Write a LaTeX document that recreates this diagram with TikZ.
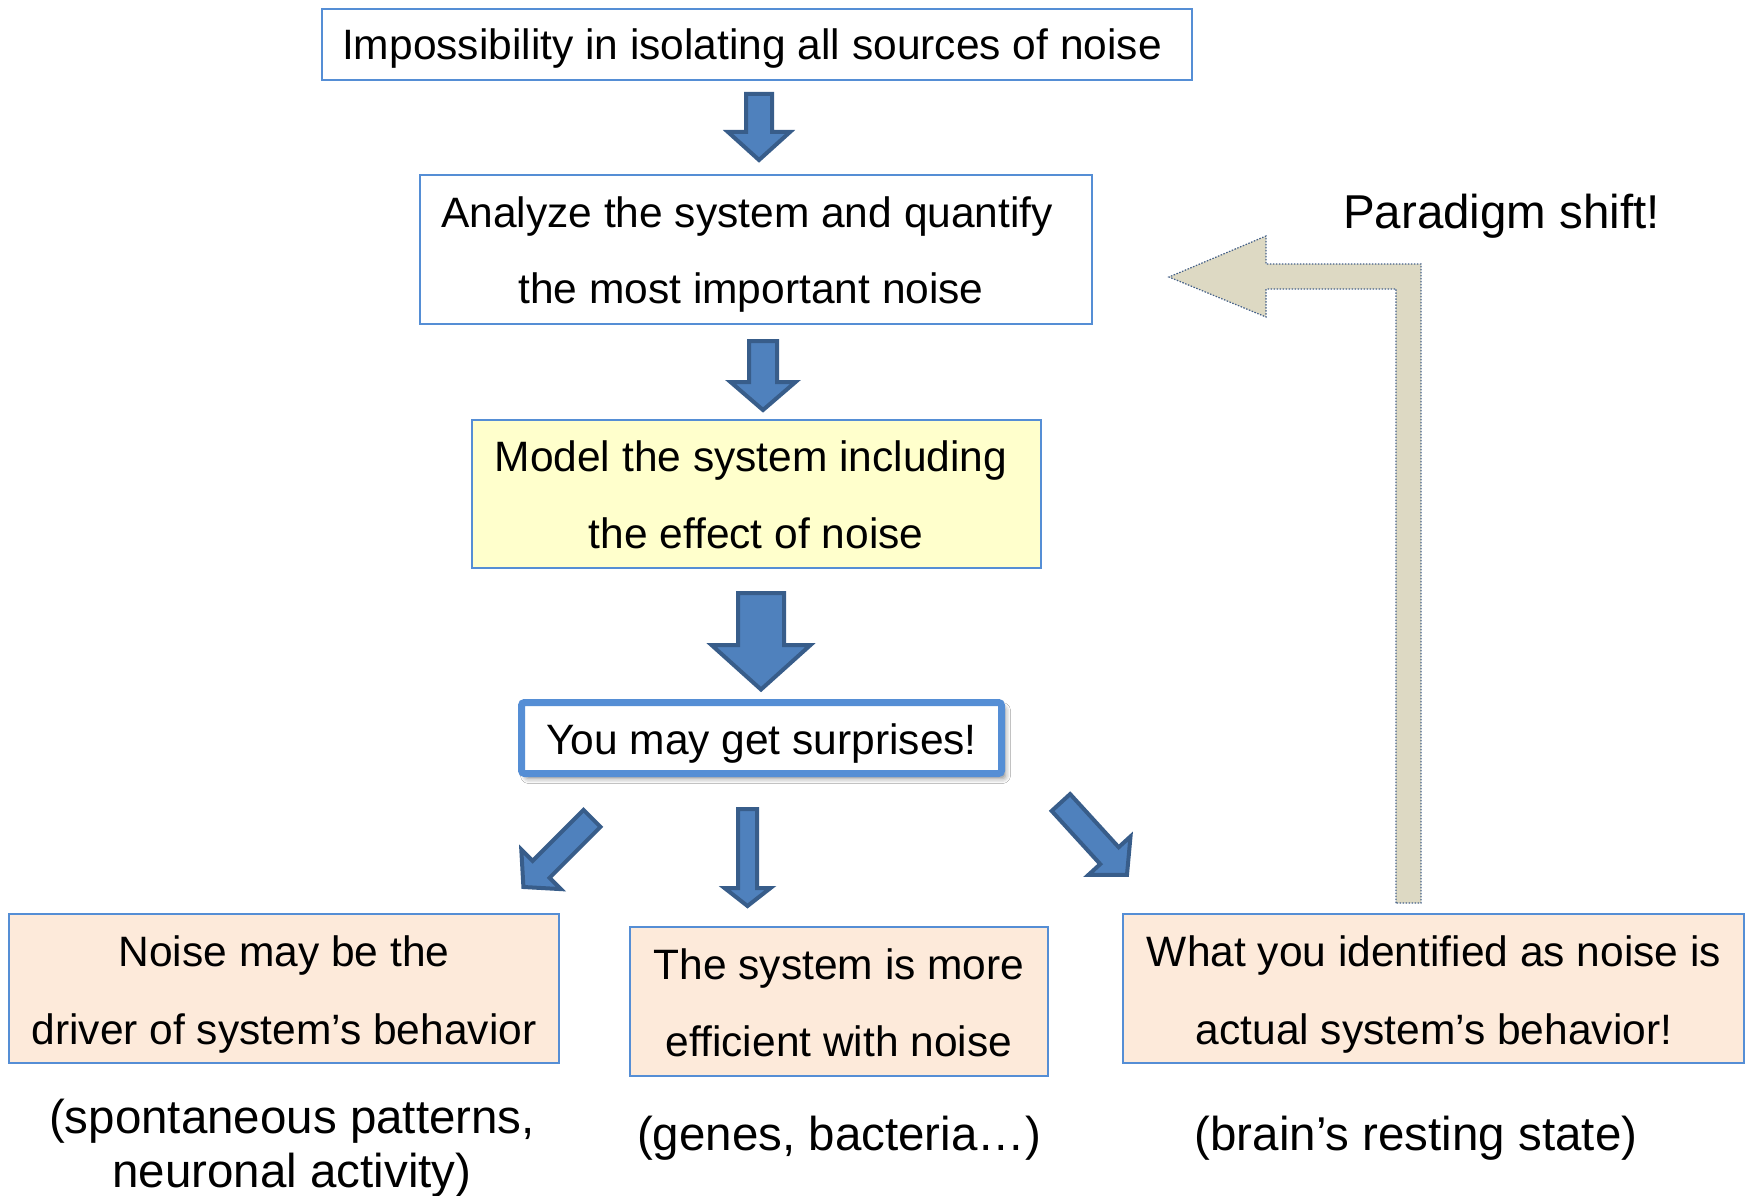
\documentclass[tikz,border=0pt]{standalone}
\usepackage{fontspec}
\setmainfont{Liberation Sans}
\usetikzlibrary{shadows.blur}

\definecolor{boxline}{RGB}{85,142,213}
\definecolor{arrowfill}{RGB}{79,129,189}
\definecolor{arrowline}{RGB}{56,93,138}
\definecolor{peach}{RGB}{253,234,218}
\definecolor{paleyellow}{RGB}{255,255,204}
\definecolor{tanfill}{RGB}{221,217,195}
\definecolor{tanline}{RGB}{68,96,136}

\tikzset{
  box/.style={draw=boxline, line width=1.8pt, rectangle, inner sep=0pt, outer sep=0pt},
  txt/.style={anchor=base, inner sep=0pt, font=\fontsize{42.5}{50}\selectfont},
  captxt/.style={anchor=base, inner sep=0pt, font=\fontsize{47.5}{55}\selectfont},
  % block arrow along the local x axis: length, shaft half width, head half width, head length
  pics/blockarrow/.style n args={4}{code={
    \draw[fill=arrowfill, draw=arrowline, line width=4pt, line join=miter]
      (0,#2) -- ({#1-#4},#2) -- ({#1-#4},#3) -- (#1,0) -- ({#1-#4},-#3)
      -- ({#1-#4},-#2) -- (0,-#2) -- cycle;
  }}
}

\begin{document}
\begin{tikzpicture}[x=1pt, y=-1pt]
\useasboundingbox (0,0) rectangle (1748,1196);
\fill[white] (0,0) rectangle (1748,1196);

% main chain
\node[box, fill=white, minimum width=870pt, minimum height=71pt] (b1) at (757,44.5) {};
\node[txt] (t1) at (752,60) {Impossibility in isolating all sources of noise};

\node[box, fill=white, minimum width=672pt, minimum height=149pt] (b2) at (756,249.5) {};
\node[txt] (t2a) at (747,227) {Analyze the system and quantify};
\node[txt] (t2b) at (751,303) {the most important noise};

\node[box, fill=paleyellow, minimum width=569pt, minimum height=148pt] (b3) at (756.5,494) {};
\node[txt] (t3a) at (751,471) {Model the system including};
\node[txt] (t3b) at (756,548) {the effect of noise};

\node[box, fill=white, line width=7pt, rounded corners=3pt,
      blur shadow={shadow xshift=4pt, shadow yshift=-5pt, shadow blur radius=5pt, shadow opacity=45},
      minimum width=480pt, minimum height=71pt] (b4) at (761.5,738) {};
\node[txt] (t4) at (761.5,754) {You may get surprises!};

% block arrows between the stages
\pic[rotate=-90] at (759,94) {blockarrow={66}{13}{31}{28}};
\pic[rotate=-90] at (763,341) {blockarrow={69}{14}{32.5}{28}};
\pic[rotate=-90] at (761,593) {blockarrow={96.5}{23}{49.5}{44.5}};

% three outcomes
\pic[rotate=225] at (592,818.4) {blockarrow={97}{12}{28}{25}};
\pic[rotate=-90] at (747.5,809) {blockarrow={97}{9.5}{23}{18}};
\pic[rotate=-47.6] at (1060.9,802.5) {blockarrow={98}{12.5}{28.5}{26}};

\node[box, fill=peach, minimum width=550pt, minimum height=149pt] (b5) at (284,988.5) {};
\node[txt] (t5a) at (284,966) {Noise may be the};
\node[txt] (t5b) at (284,1044) {driver of system’s behavior};

\node[box, fill=peach, minimum width=418pt, minimum height=149pt] (b6) at (839,1001.5) {};
\node[txt] (t6a) at (839,979) {The system is more};
\node[txt] (t6b) at (839,1056) {efficient with noise};

\node[box, fill=peach, minimum width=621pt, minimum height=149pt] (b7) at (1433.5,988.5) {};
\node[txt] (t7a) at (1434,966) {What you identified as noise is};
\node[txt] (t7b) at (1434,1044) {actual system’s behavior!};

% examples under each outcome
\node[captxt] (c1a) at (292,1133) {(spontaneous patterns,};
\node[captxt] (c1b) at (292,1187) {neuronal activity)};
\node[captxt] (c2) at (839,1150) {(genes, bacteria…)};
\node[captxt] (c3) at (1416,1150) {(brain’s resting state)};

% feedback arrow
\draw[fill=tanfill, draw=tanline, line width=1.2pt, dash pattern=on 1.5pt off 1.5pt]
  (1396,903) -- (1396,289) -- (1266,289) -- (1266,317) -- (1169,277)
  -- (1266,236) -- (1266,264) -- (1421,264) -- (1421,903) -- cycle;
\node[captxt, anchor=base west] (ps) at (1343,228) {Paradigm shift!};
\end{tikzpicture}
\end{document}
